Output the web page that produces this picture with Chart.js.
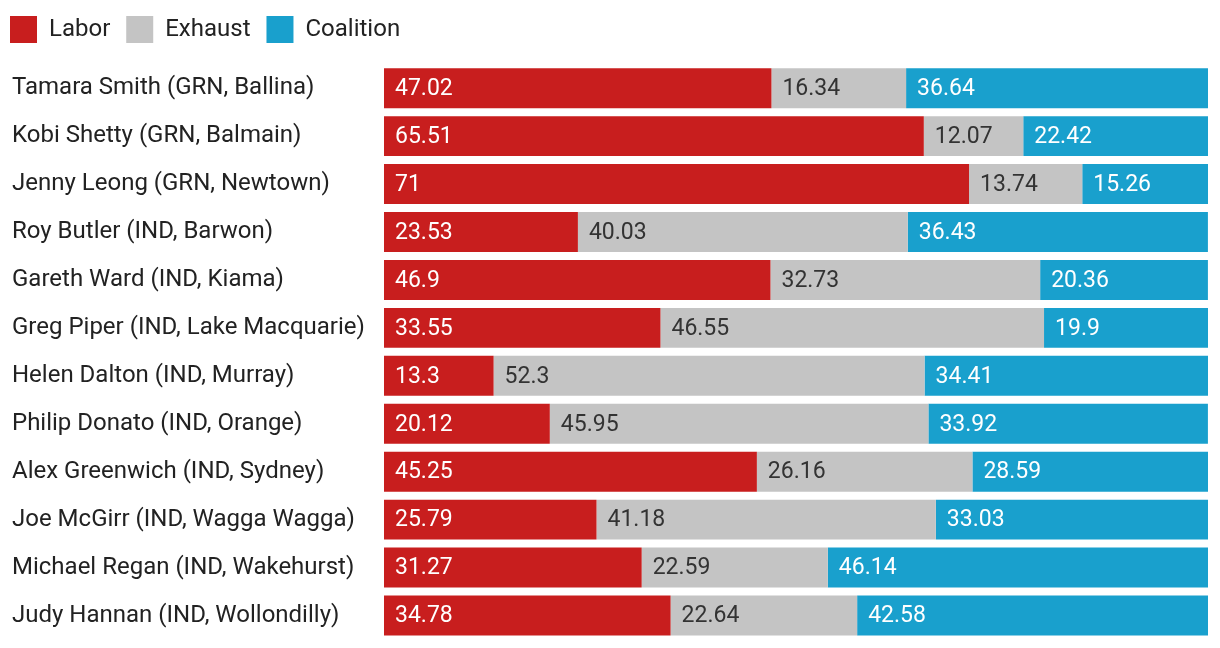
<!DOCTYPE html>
<html lang="en">
<head>
    <meta charset="UTF-8">
    <title>Preferences</title>
    <script src="https://cdn.jsdelivr.net/npm/chart.js"></script>
    <style>
        body { margin: 0; background: #fff; }
        #chart-container { width: 1220px; height: 648px; }
    </style>
</head>
<body>
    <div id="chart-container">
        <canvas id="prefChart"></canvas>
    </div>

    <script>
        // Dados
        const categories = [
            'Tamara Smith (GRN, Ballina)',
            'Kobi Shetty (GRN, Balmain)',
            'Jenny Leong (GRN, Newtown)',
            'Roy Butler (IND, Barwon)',
            'Gareth Ward (IND, Kiama)',
            'Greg Piper (IND, Lake Macquarie)',
            'Helen Dalton (IND, Murray)',
            'Philip Donato (IND, Orange)',
            'Alex Greenwich (IND, Sydney)',
            'Joe McGirr (IND, Wagga Wagga)',
            'Michael Regan (IND, Wakehurst)',
            'Judy Hannan (IND, Wollondilly)'
        ];
        const labor = [47.02, 65.51, 71, 23.53, 46.9, 33.55, 13.3, 20.12, 45.25, 25.79, 31.27, 34.78];
        const exhaust = [16.34, 12.07, 13.74, 40.03, 32.73, 46.55, 52.3, 45.95, 26.16, 41.18, 22.59, 22.64];
        const coalition = [36.64, 22.42, 15.26, 36.43, 20.36, 19.9, 34.41, 33.92, 28.59, 33.03, 46.14, 42.58];

        const labelColors = ['#ffffff', '#333333', '#ffffff'];

        // Rótulos dentro das barras
        const barLabels = {
            id: 'barLabels',
            afterDatasetsDraw(chart) {
                const ctx = chart.ctx;
                ctx.save();
                ctx.font = '23px Roboto';
                ctx.textAlign = 'left';
                ctx.textBaseline = 'middle';
                chart.data.datasets.forEach((ds, i) => {
                    ctx.fillStyle = labelColors[i];
                    chart.getDatasetMeta(i).data.forEach((bar, j) => {
                        const left = Math.min(bar.x, bar.base);
                        ctx.fillText(String(ds.data[j]), left + 11, bar.y + 1);
                    });
                });
                ctx.restore();
            }
        };

        Chart.defaults.font.family = 'Roboto';
        Chart.defaults.color = '#222';

        const defaultLegendLabels = Chart.defaults.plugins.legend.labels.generateLabels;

        const chart = new Chart(document.getElementById('prefChart'), {
            type: 'bar',
            data: {
                labels: categories,
                datasets: [
                    { label: 'Labor', data: labor, backgroundColor: '#c81e1e' },
                    { label: 'Exhaust', data: exhaust, backgroundColor: '#c4c4c4' },
                    { label: 'Coalition', data: coalition, backgroundColor: '#19a0cd' }
                ]
            },
            options: {
                indexAxis: 'y',
                responsive: true,
                maintainAspectRatio: false,
                animation: false,
                datasets: { bar: { categoryPercentage: 1, barPercentage: 40 / 48 } },
                layout: { padding: { left: 0, right: 12, top: 6, bottom: 8.5 } },
                plugins: {
                    tooltip: { enabled: false },
                    legend: {
                        align: 'start',
                        labels: {
                            boxWidth: 27,
                            boxHeight: 27,
                            padding: 10,
                            font: { size: 24 },
                            color: '#222',
                            generateLabels(chart) {
                                // um espaço a mais entre os itens
                                return defaultLegendLabels(chart).map(l => ({ ...l, text: l.text + ' ' }));
                            }
                        }
                    },
                    // espaço vazio entre a legenda e as barras
                    title: {
                        display: true,
                        text: '',
                        weight: 500,
                        font: { size: 1 },
                        padding: { top: 0, bottom: 10 }
                    }
                },
                scales: {
                    x: { stacked: true, min: 0, max: 100, display: false },
                    y: {
                        stacked: true,
                        weight: 0,
                        grid: { display: false },
                        border: { display: false },
                        ticks: { crossAlign: 'far', font: { size: 24 }, color: '#222', padding: 0 },
                        afterFit(scale) {
                            scale.width = 372;
                            scale.paddingTop = 0;
                            scale.paddingBottom = 0;
                        }
                    },
                    // margem à esquerda dos nomes
                    gap: {
                        axis: 'y',
                        position: 'left',
                        weight: 5,
                        grid: { display: false },
                        border: { display: false },
                        ticks: { display: false },
                        afterFit(scale) { scale.width = 12; }
                    }
                }
            },
            plugins: [barLabels]
        });
    </script>
</body>
</html>
